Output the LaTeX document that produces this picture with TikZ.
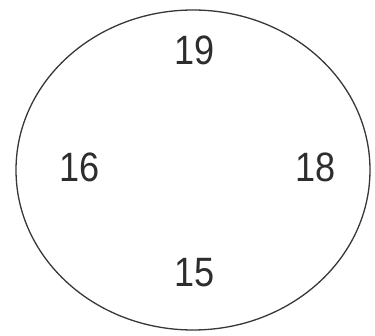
\documentclass[tikz,border=0pt]{standalone}
\usepackage{fontspec}
\setmainfont{Liberation Sans}
\newfontfamily\numfont[FakeStretch=0.88]{Liberation Sans}
\usetikzlibrary{shapes.geometric}
\definecolor{rimgray}{RGB}{55,55,55}
\definecolor{numgray}{RGB}{45,45,45}

\begin{document}
\begin{tikzpicture}[x=1pt,y=1pt,
      rim/.style={draw=rimgray,line width=1.3pt,ellipse,minimum width=354pt,minimum height=320pt,inner sep=0pt},
      num/.style={text=numgray,font=\numfont\fontsize{41}{48}\selectfont,inner sep=0pt}]
      \useasboundingbox (0,0) rectangle (375,335);
      \node[rim] (ring) at (193,165) {};
      \node[num] (top) at (195,285) {19};
      \node[num] (left) at (80,168) {16};
      \node[num] (right) at (316,168) {18};
      \node[num] (bottom) at (195,62) {15};
    \end{tikzpicture}
\end{document}
